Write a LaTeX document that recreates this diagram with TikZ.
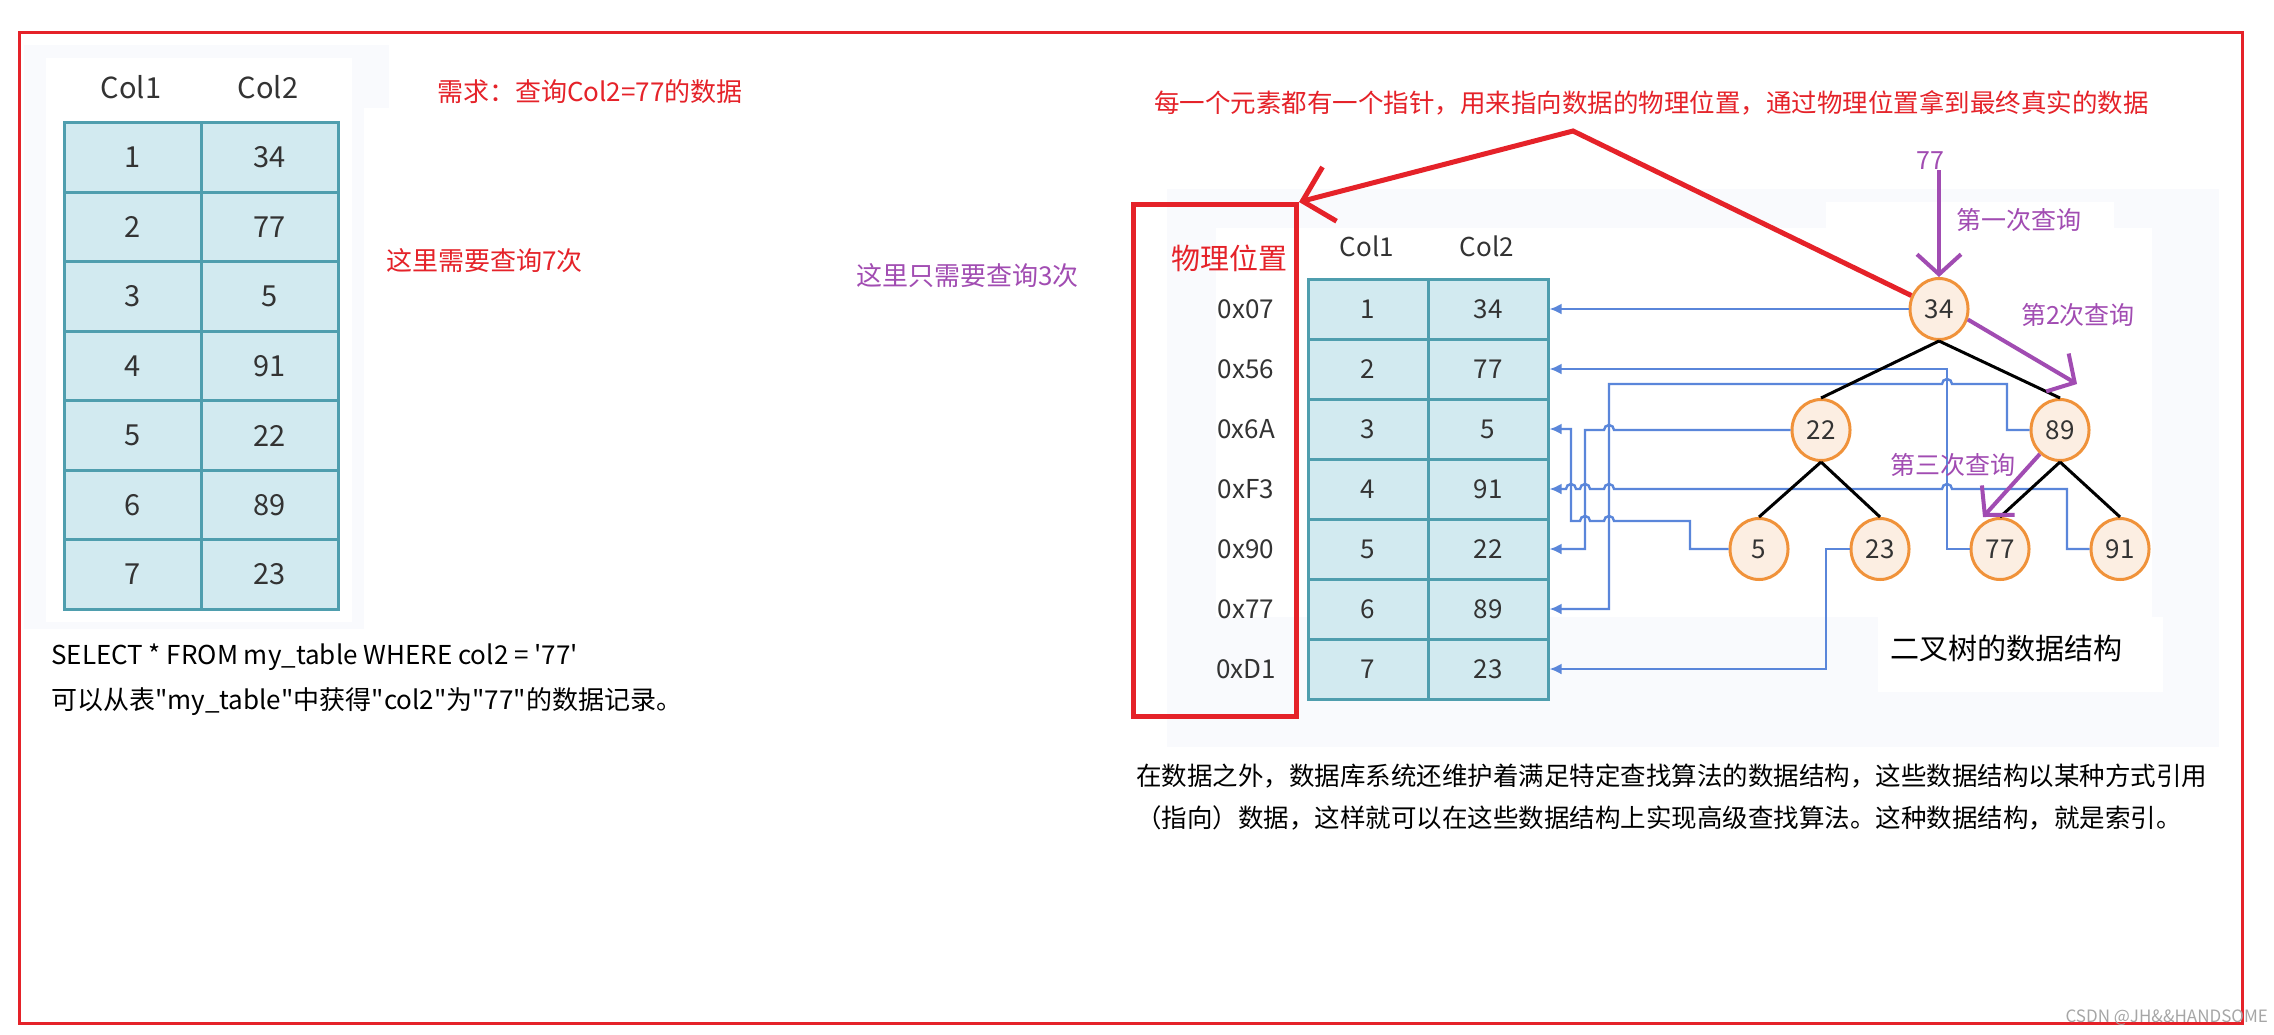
\documentclass[tikz,border=0pt]{standalone}
\usepackage{fontspec}
\setmainfont{Noto Sans CJK SC}
\usetikzlibrary{arrows.meta,shapes.geometric}
\definecolor{mred}{HTML}{E52229}
\definecolor{mpurple}{HTML}{A14CB2}
\definecolor{cellfill}{HTML}{D2EAF0}
\definecolor{celldraw}{HTML}{4F9EAE}
\definecolor{nodefill}{HTML}{FCEEE2}
\definecolor{nodedraw}{HTML}{F0923A}
\definecolor{linkblue}{HTML}{5A86DA}
\definecolor{faint}{HTML}{F9FAFD}
\newcommand{\fsz}[1]{\fontsize{#1}{#1}\selectfont}
\newcommand{\hop}[2]{-- ({#1+5},#2) arc[start angle=0,end angle=-180,radius=5]}
\begin{document}
\begin{tikzpicture}[x=1pt,y=-1pt,
    link/.style={draw=linkblue,line width=2.4,-{Latex[length=12pt,width=11pt]}},
    qarrow/.style={draw=mpurple,line width=4,-{Straight Barb[length=20pt,width=44pt]}},
    ptr/.style={draw=mred,line width=5,-{Straight Barb[length=28pt,width=56pt]}},
    redtext/.style={text=mred,font=\fsz{26},inner sep=0},
    qtext/.style={text=mpurple,font=\fsz{25},inner sep=0},
    plain/.style={text=black,font=\fsz{26},inner sep=0}]
\useasboundingbox (0,0) rectangle (2274,1034);
\fill[white] (0,0) rectangle (2274,1034);

\fill[faint] (24,45) rectangle (389,108);
\fill[faint] (24,45) rectangle (364,629);
\fill[white] (46,58) rectangle (352,622);
\fill[faint] (1167,189) rectangle (2219,747);
\fill[white] (1216,228) rectangle (2152,617);
\fill[white] (1826,202) rectangle (2114,228);
\fill[white] (1878,617) rectangle (2163,692);

\draw[mred,line width=3] (19,32) rectangle (2242,1023);

\begin{scope}[every node/.style={text=black!80,font=\fsz{29},inner sep=0}]
    \node (lh1) at (131,87) {Col1};
    \node (lh2) at (268,87) {Col2};
\end{scope}
\begin{scope}[every node/.style={draw=celldraw,fill=cellfill,line width=3,inner sep=0,text=black!80,font=\fsz{29},minimum width=137pt,minimum height=69.5pt}]
    \foreach \a/\b [count=\i] in {1/34,2/77,3/5,4/91,5/22,6/89,7/23} {
        \node (la\i) at (132.5,{88+69.5*\i}) {\a};
        \node (lb\i) at (269.5,{88+69.5*\i}) {\b};
    }
\end{scope}

\node[redtext,anchor=west] (need) at (437,92) {需求：查询Col2=77的数据};
\node[redtext,anchor=west] (seven) at (386,261) {这里需要查询7次};
\node[plain,anchor=west] (sql) at (51,657) {SELECT * FROM my\_table WHERE col2 = \textquotesingle 77\textquotesingle};
\node[plain,anchor=west] (sqlnote) at (51,702) {可以从表\textquotedbl my\_table\textquotedbl 中获得\textquotedbl col2\textquotedbl 为\textquotedbl 77\textquotedbl 的数据记录。};

\node[redtext,anchor=west,font=\fsz{25.5}] (pointer) at (1154,103) {每一个元素都有一个指针，用来指向数据的物理位置，通过物理位置拿到最终真实的数据};
\node[qtext,anchor=west,font=\fsz{26}] (three) at (856,276) {这里只需要查询3次};

\node[draw=mred,line width=5,minimum width=163pt,minimum height=512pt] (physbox) at (1215,460.5) {};
\node[text=mred,font=\fsz{29},inner sep=0] (phys) at (1229,258) {物理位置};

\begin{scope}[every node/.style={text=black!80,font=\fsz{26},inner sep=0}]
    \node (rh1) at (1367,246) {Col1};
    \node (rh2) at (1487,246) {Col2};
    \foreach \h [count=\i] in {0x07,0x56,0x6A,0xF3,0x90,0x77,0xD1}
        \node (h\i) at (1246,{249+60*\i}) {\h};
\end{scope}
\begin{scope}[every node/.style={draw=celldraw,fill=cellfill,line width=3,inner sep=0,text=black!80,font=\fsz{26},minimum width=120pt,minimum height=60pt}]
    \foreach \a/\b [count=\i] in {1/34,2/77,3/5,4/91,5/22,6/89,7/23} {
        \node (a\i) at (1368,{249+60*\i}) {\a};
        \node (c\i) at (1488,{249+60*\i}) {\b};
    }
\end{scope}

\begin{scope}[every node/.style={ellipse,draw=nodedraw,fill=nodefill,line width=3,inner sep=0,minimum width=58pt,minimum height=61pt,text=black!80,font=\fsz{26}}]
    \node (n34) at (1939,309) {34};
    \node (n22) at (1821,430) {22};
    \node (n89) at (2060,430) {89};
    \node (n5) at (1759,549) {5};
    \node (n23) at (1880,549) {23};
    \node (n77) at (2000,549) {77};
    \node (n91) at (2120,549) {91};
\end{scope}

\draw[link] (n34.west) -- (c1.east);
\draw[link] (n77.west) -| (1947,369) -- (c2.east);
\draw[link] (n89.west) -| (2007,384) \hop{1947}{384} -- (1609,384) -- (1609,609) -- (c6.east);
\draw[link] (n22.west) \hop{1609}{430} -- (1585,430) -- (1585,549) -- (c5.east);
\draw[link] (n5.west) -| (1690,521) \hop{1609}{521} \hop{1585}{521} -- (1571,521) -- (1571,429) -- (c3.east);
\draw[link] (n91.west) -| (2067,489) \hop{1947}{489} \hop{1609}{489} \hop{1585}{489} \hop{1571}{489} -- (c4.east);
\draw[link] (n23.west) -| (1826,669) -- (c7.east);

\begin{scope}[every edge/.style={draw,black,line width=3}]
    \path (n34.south) edge (n22.north);
    \path (n34.south) edge (n89.north);
    \path (n22.south) edge (n5.north);
    \path (n22.south) edge (n23.north);
    \path (n89.south) edge (n77.north);
    \path (n89.south) edge (n91.north);
\end{scope}

\node[qtext] (q77) at (1930,161) {77};
\node[qtext] (first) at (2019,220) {第一次查询};
\node[qtext] (second) at (2078,315) {第2次查询};
\node[qtext] (third) at (1953,465) {第三次查询};
\draw[qarrow] (n34.north |- q77.south) -- (n34.north);
\draw[qarrow] (n34.-20) -- ([shift={(17pt,14pt)}]n89.north);
\draw[qarrow] (n89.-130) -- ([xshift=-17pt]n77.north);

\node[plain,font=\fsz{29}] (tree) at (2006,648) {二叉树的数据结构};

\coordinate (apex) at (1573,131);
\draw[ptr] (n34) -- (apex) -- (physbox.north east);

\node[plain,anchor=west,font=\fsz{25.5}] (para1) at (1136,776) {在数据之外，数据库系统还维护着满足特定查找算法的数据结构，这些数据结构以某种方式引用};
\node[plain,anchor=west,font=\fsz{25.5}] (para2) at (1136,818) {（指向）数据，这样就可以在这些数据结构上实现高级查找算法。这种数据结构，就是索引。};

\node[anchor=east,text=gray!70,font=\fsz{17},inner sep=0] (mark) at (2268,1018) {CSDN @JH\&\&HANDSOME};
\end{tikzpicture}
\end{document}
